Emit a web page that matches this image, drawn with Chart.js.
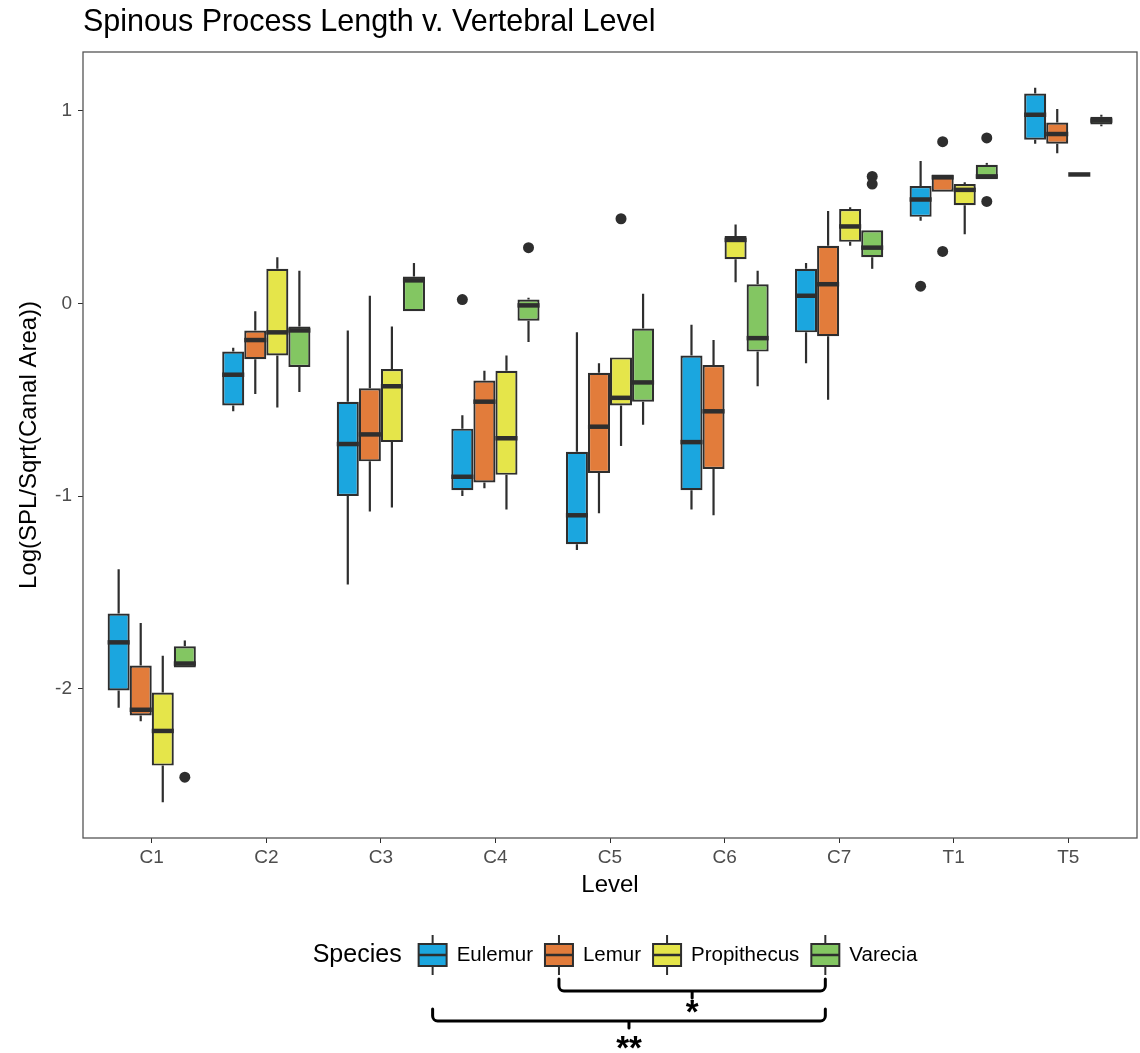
<!DOCTYPE html>
<html>
<head>
<meta charset="utf-8">
<title>Spinous Process Length v. Vertebral Level</title>
<script src="https://cdn.jsdelivr.net/npm/chart.js@4.4.1/dist/chart.umd.min.js"></script>
<style>
  html, body { margin: 0; padding: 0; background: #fff; }
  #wrap { width: 1140px; height: 1053px; }
</style>
</head>
<body>
<div id="wrap"><canvas id="spl" width="1140" height="1053"></canvas></div>
<script>
const levels = ['C1', 'C2', 'C3', 'C4', 'C5', 'C6', 'C7', 'T1', 'T5'];
const species = ['Eulemur', 'Lemur', 'Propithecus', 'Varecia'];
const speciesColors = ['#1ba6df', '#e27c3b', '#e5e54a', '#83c662'];
const yTicks = [-2, -1, 0, 1];

// per level: [lower whisker, Q1, median, Q3, upper whisker]
const eulemur = [
  [-2.10, -2.01, -1.76, -1.61, -1.38],
  [-0.56, -0.53, -0.37, -0.25, -0.23],
  [-1.46, -1.00, -0.73, -0.51, -0.14],
  [-1.00, -0.97, -0.90, -0.65, -0.58],
  [-1.28, -1.25, -1.10, -0.77, -0.15],
  [-1.07, -0.97, -0.72, -0.27, -0.11],
  [-0.31, -0.15, 0.04, 0.18, 0.21],
  [0.43, 0.45, 0.54, 0.61, 0.74],
  [0.83, 0.85, 0.98, 1.09, 1.12]
];
const lemur = [
  [-2.17, -2.14, -2.11, -1.88, -1.66],
  [-0.47, -0.29, -0.19, -0.14, -0.04],
  [-1.08, -0.82, -0.68, -0.44, 0.04],
  [-0.96, -0.93, -0.51, -0.40, -0.35],
  [-1.09, -0.88, -0.64, -0.36, -0.31],
  [-1.10, -0.86, -0.56, -0.32, -0.19],
  [-0.50, -0.17, 0.10, 0.30, 0.48],
  [0.58, 0.58, 0.655, 0.67, 0.67],
  [0.78, 0.83, 0.88, 0.94, 1.01]
];
const propithecus = [
  [-2.59, -2.40, -2.22, -2.02, -1.83],
  [-0.54, -0.27, -0.15, 0.18, 0.24],
  [-1.06, -0.72, -0.43, -0.34, -0.12],
  [-1.07, -0.89, -0.70, -0.35, -0.27],
  [-0.74, -0.53, -0.49, -0.28, -0.28],
  [0.11, 0.23, 0.33, 0.35, 0.41],
  [0.30, 0.32, 0.40, 0.49, 0.50],
  [0.36, 0.51, 0.59, 0.62, 0.63],
  [0.67, 0.67, 0.67, 0.67, 0.67]
];
const varecia = [
  [-1.89, -1.89, -1.87, -1.78, -1.75],
  [-0.46, -0.33, -0.14, -0.12, 0.17],
  [-0.04, -0.04, 0.12, 0.14, 0.21],
  [-0.20, -0.09, -0.01, 0.02, 0.03],
  [-0.63, -0.51, -0.41, -0.13, 0.05],
  [-0.43, -0.25, -0.18, 0.10, 0.17],
  [0.18, 0.24, 0.29, 0.38, 0.38],
  [0.645, 0.645, 0.66, 0.72, 0.73],
  [0.92, 0.93, 0.95, 0.97, 0.98]
];

// points beyond the whiskers
const eulemurOut = [[], [], [], [0.02], [], [], [], [0.09], []];
const lemurOut = [[], [], [], [], [], [], [], [0.84, 0.27], []];
const propithecusOut = [[], [], [], [], [0.44], [], [], [], []];
const vareciaOut = [[-2.46], [], [], [0.29], [], [], [0.66, 0.62], [0.86, 0.53], []];

// significance brackets under the legend (legend item indices)
const brackets = [
  { from: 1, to: 3, label: '*' },
  { from: 0, to: 3, label: '**' }
];

const stats = [eulemur, lemur, propithecus, varecia];
const outliers = [eulemurOut, lemurOut, propithecusOut, vareciaOut];

const FONT = '"Liberation Sans", Arial, Helvetica, sans-serif';
const INK = '#2e2e2e';

const datasets = species.map((name, d) => ({
  label: name,
  data: levels.map((lv, i) => ({ x: i + 1, y: [stats[d][i][1], stats[d][i][3]] })),
  backgroundColor: speciesColors[d],
  borderColor: INK,
  borderWidth: 2.2,
  borderSkipped: false,
  categoryPercentage: 0.77,
  barPercentage: 1
}));

// whiskers behind the boxes, medians and outlier dots on top
const boxParts = {
  id: 'boxParts',
  beforeDatasetsDraw(chart) {
    const ctx = chart.ctx, y = chart.scales.y;
    ctx.save();
    ctx.strokeStyle = INK;
    ctx.lineWidth = 2.2;
    stats.forEach((rows, d) => {
      chart.getDatasetMeta(d).data.forEach((bar, i) => {
        const [lo, q1, , q3, hi] = rows[i];
        ctx.beginPath();
        ctx.moveTo(bar.x, y.getPixelForValue(lo));
        ctx.lineTo(bar.x, y.getPixelForValue(q1));
        ctx.moveTo(bar.x, y.getPixelForValue(q3));
        ctx.lineTo(bar.x, y.getPixelForValue(hi));
        ctx.stroke();
      });
    });
    ctx.restore();
  },
  afterDatasetsDraw(chart) {
    const ctx = chart.ctx, y = chart.scales.y;
    ctx.save();
    ctx.strokeStyle = INK;
    ctx.fillStyle = INK;
    stats.forEach((rows, d) => {
      chart.getDatasetMeta(d).data.forEach((bar, i) => {
        const my = y.getPixelForValue(rows[i][2]);
        ctx.lineWidth = 4.5;
        ctx.beginPath();
        ctx.moveTo(bar.x - bar.width / 2, my);
        ctx.lineTo(bar.x + bar.width / 2, my);
        ctx.stroke();
        outliers[d][i].forEach(v => {
          ctx.beginPath();
          ctx.arc(bar.x, y.getPixelForValue(v), 5.5, 0, Math.PI * 2);
          ctx.fill();
        });
      });
    });
    ctx.restore();
  }
};

// title, panel border, legend with box keys and brackets
const decorations = {
  id: 'decorations',
  afterDraw(chart) {
    const ctx = chart.ctx, area = chart.chartArea;
    ctx.save();

    ctx.strokeStyle = '#555';
    ctx.lineWidth = 1.3;
    ctx.strokeRect(area.left, area.top, area.right - area.left, area.bottom - area.top);

    ctx.fillStyle = '#000';
    ctx.textBaseline = 'alphabetic';
    ctx.textAlign = 'left';
    ctx.font = '30.5px ' + FONT;
    ctx.fillText('Spinous Process Length v. Vertebral Level', area.left, 31);

    // legend
    const cy = 955, keyW = 28, keyH = 22;
    ctx.font = '25px ' + FONT;
    const titleW = ctx.measureText('Species').width;
    ctx.font = '20.5px ' + FONT;
    const labelW = species.map(s => ctx.measureText(s).width);
    const total = titleW + 17 + species.length * (keyW + 10) +
      labelW.reduce((a, b) => a + b, 0) + (species.length - 1) * 12;
    let x = 615 - total / 2;

    ctx.textBaseline = 'middle';
    ctx.font = '25px ' + FONT;
    ctx.fillText('Species', x, cy);
    x += titleW + 17;

    const keyCenters = [];
    species.forEach((s, k) => {
      const cx = x + keyW / 2;
      keyCenters.push(cx);
      ctx.strokeStyle = INK;
      ctx.lineWidth = 2;
      ctx.beginPath();
      ctx.moveTo(cx, cy - keyH / 2 - 9);
      ctx.lineTo(cx, cy + keyH / 2 + 9);
      ctx.stroke();
      ctx.fillStyle = speciesColors[k];
      ctx.fillRect(x, cy - keyH / 2, keyW, keyH);
      ctx.strokeRect(x, cy - keyH / 2, keyW, keyH);
      ctx.lineWidth = 2.5;
      ctx.beginPath();
      ctx.moveTo(x, cy);
      ctx.lineTo(x + keyW, cy);
      ctx.stroke();
      ctx.fillStyle = '#000';
      ctx.font = '20.5px ' + FONT;
      ctx.fillText(s, x + keyW + 10, cy);
      x += keyW + 10 + labelW[k] + 12;
    });

    // brackets
    const rows = [{ top: 979, line: 991, tick: 998, text: 1023 }, { top: 1009, line: 1021, tick: 1028, text: 1059 }];
    ctx.strokeStyle = '#000';
    ctx.lineWidth = 3;
    ctx.lineJoin = 'round';
    ctx.lineCap = 'round';
    brackets.forEach((b, j) => {
      const r = rows[j];
      const x0 = keyCenters[b.from], x1 = keyCenters[b.to], xm = (x0 + x1) / 2;
      ctx.beginPath();
      ctx.moveTo(x0, r.top);
      ctx.arcTo(x0, r.line, x0 + 6, r.line, 5);
      ctx.lineTo(x1 - 6, r.line);
      ctx.arcTo(x1, r.line, x1, r.top, 5);
      ctx.lineTo(x1, r.top);
      ctx.moveTo(xm, r.line);
      ctx.lineTo(xm, r.tick);
      ctx.stroke();
      ctx.fillStyle = '#000';
      ctx.textAlign = 'center';
      ctx.textBaseline = 'alphabetic';
      ctx.font = 'bold 33px ' + FONT;
      ctx.fillText(b.label, xm, r.text);
    });

    ctx.restore();
  }
};

new Chart(document.getElementById('spl'), {
  type: 'bar',
  data: { datasets },
  options: {
    responsive: false,
    animation: false,
    devicePixelRatio: 1,
    layout: { padding: { top: 52, right: 3, bottom: 149, left: 0 } },
    plugins: { legend: { display: false }, tooltip: { enabled: false }, title: { display: false } },
    scales: {
      x: {
        type: 'linear',
        min: 0.4,
        max: 9.6,
        offset: false,
        afterBuildTicks: s => { s.ticks = levels.map((l, i) => ({ value: i + 1 })); },
        afterFit: s => { s.height = 66; },
        border: { display: false },
        grid: { offset: false, drawOnChartArea: false, drawTicks: true, tickLength: 5, color: INK, lineWidth: 1 },
        ticks: {
          autoSkip: false, maxRotation: 0, padding: 3, color: '#4d4d4d',
          font: { family: FONT, size: 19 },
          callback: v => levels[v - 1]
        },
        title: { display: true, text: 'Level', color: '#000', font: { family: FONT, size: 24 }, padding: { top: 4, bottom: 4 } }
      },
      y: {
        min: -2.776,
        max: 1.306,
        afterBuildTicks: s => { s.ticks = yTicks.map(v => ({ value: v })); },
        afterFit: s => { s.width = 83; },
        border: { display: false },
        grid: { drawOnChartArea: false, drawTicks: true, tickLength: 5, color: INK, lineWidth: 1 },
        ticks: { padding: 6, color: '#4d4d4d', font: { family: FONT, size: 19 }, callback: v => String(v) },
        title: { display: true, text: 'Log(SPL/Sqrt(Canal Area))', color: '#000', font: { family: FONT, size: 24 }, padding: { top: 15, bottom: 0 } }
      }
    }
  },
  plugins: [boxParts, decorations]
});
</script>
</body>
</html>
